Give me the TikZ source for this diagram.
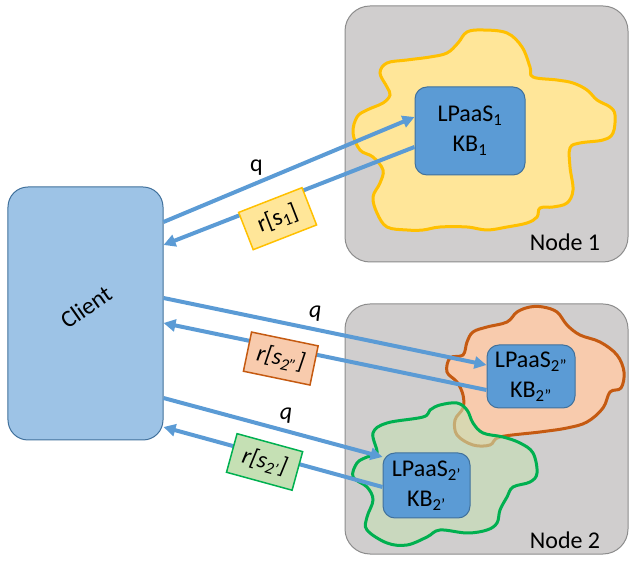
\documentclass[tikz,border=0pt]{standalone}
\usepackage{fontspec}
\setmainfont{Carlito}
\usepackage{tikz}
\usetikzlibrary{arrows.meta}
\definecolor{clientfill}{HTML}{9DC3E6}
\definecolor{edgeblue}{HTML}{41719C}
\definecolor{lpfill}{HTML}{5B9BD5}
\definecolor{hostfill}{HTML}{D0CECE}
\definecolor{hostline}{HTML}{8C8C8C}
\definecolor{yfill}{HTML}{FFE699}
\definecolor{yline}{HTML}{FFC000}
\definecolor{ofill}{HTML}{F8CBAD}
\definecolor{oline}{HTML}{C55A11}
\definecolor{gfill}{HTML}{C5E0B4}
\definecolor{gline}{HTML}{00B050}

\begin{document}
\begin{tikzpicture}[x=1bp,y=1bp,>={Triangle[length=12bp,width=12bp]},
  every node/.style={font=\fontsize{24bp}{30bp}\selectfont,text=black},
  host/.style={draw=hostline,fill=hostfill,rounded corners=25bp,line width=1bp,minimum width=283bp},
  lpbox/.style={draw=edgeblue,fill=lpfill,rounded corners=12bp,line width=1bp,align=center,inner sep=0pt},
  link/.style={->,lpfill,line width=4bp},
  qlabel/.style={above=4bp,inner sep=2pt},
  tag/.style={sloped,line width=1.5bp,inner sep=2pt,minimum width=68bp,minimum height=40bp}]
\useasboundingbox (0,0) rectangle (640,565);

% hosts
\node[host,minimum height=256bp] (N1) at (486.5,431) {};
\node[host,minimum height=250bp] (N2) at (486.5,136) {};
\node (N1t) at (565,323) {Node 1};
\node (N2t) at (565,25) {Node 2};

% knowledge bases
\draw[yline,fill=yfill,line width=3bp] plot[smooth cycle,tension=0.6] coordinates {
  (458,522) (467,533) (483,535) (507,532) (522,518) (530,498) (533,488) (557,485)
  (573,482) (587,475) (597,465) (610,458) (615,450) (613,432) (603,425) (580,422)
  (570,417) (570,398) (573,375) (567,362) (553,358) (540,357) (537,348) (527,342)
  (507,338) (487,335) (467,338) (440,338) (423,335) (407,335) (387,338) (377,352)
  (373,368) (380,382) (383,395) (373,408) (360,415) (353,432) (357,448) (367,455)
  (383,462) (390,470) (387,478) (380,492) (387,502) (407,505) (430,508) (447,512)};
\draw[oline,fill=ofill,line width=3bp] plot[smooth cycle,tension=0.6] coordinates {
  (517,253) (530,258) (543,258) (557,253) (567,240) (580,230) (600,223) (617,210)
  (624,193) (621,177) (610,173) (603,157) (587,143) (567,137) (540,133) (500,128)
  (490,120) (473,120) (457,130) (455,145) (463,157) (463,170) (457,183) (447,193)
  (450,207) (463,210) (467,223) (473,233) (487,238) (507,243)};
\draw[gline,fill=gfill,fill opacity=0.6,line width=3bp] plot[smooth cycle,tension=0.6] coordinates {
  (373,132) (387,142) (423,148) (430,155) (440,160) (457,162) (467,155) (473,142)
  (483,132) (503,128) (520,122) (533,112) (537,92) (530,83) (513,78) (507,68)
  (500,55) (497,42) (487,35) (467,32) (440,35) (427,28) (407,20) (387,22)
  (367,35) (367,48) (373,65) (367,78) (353,88) (357,102) (367,108) (377,112)};

\node[lpbox,minimum width=110bp,minimum height=88bp] (L1) at (470,434) {LPaaS\textsubscript{1}\\KB\textsubscript{1}};
\node[lpbox,minimum width=88bp,minimum height=63bp] (L2) at (531,188.5) {LPaaS\textsubscript{2”}\\KB\textsubscript{2”}};
\node[lpbox,minimum width=87bp,minimum height=65bp] (L3) at (426.5,79.5) {LPaaS\textsubscript{2’}\\KB\textsubscript{2’}};

% client
\node[draw=edgeblue,fill=clientfill,rounded corners=20bp,line width=1bp,minimum width=155bp,minimum height=253bp] (C) at (85.5,251.5) {};
\node[rotate=35] (Ct) at (86,258) {Client};

% queries and replies
\draw[link] ([yshift=91.5bp]C.east) -- node[qlabel,pos=0.37] (q1) {q} ([yshift=14bp]L1.west);
\draw[link] ([yshift=-16bp]L1.west) -- node[tag,draw=yline,fill=yfill,pos=0.57,yshift=-17bp] (r1) {r[s\textsubscript{1}]} ([yshift=68.5bp]C.east);
\draw[link] ([yshift=15.5bp]C.east) -- node[qlabel,pos=0.47] (q2) {\textit{q}} ([yshift=11.5bp]L2.west);
\draw[link] ([yshift=-13.5bp]L2.west) -- node[tag,draw=oline,fill=ofill,pos=0.63,yshift=-11bp] (r2) {\textit{r[s\textsubscript{2”}]}} ([yshift=-9.5bp]C.east);
\draw[link] ([yshift=-84.5bp]C.east) -- node[qlabel,pos=0.56] (q3) {\textit{q}} ([yshift=28.5bp]L3.west);
\draw[link] ([yshift=-1.5bp]L3.west) -- node[tag,draw=gline,fill=gfill,pos=0.53,yshift=-7bp] (r3) {\textit{r[s\textsubscript{2’}]}} ([yshift=-113.5bp]C.east);
\end{tikzpicture}
\end{document}
